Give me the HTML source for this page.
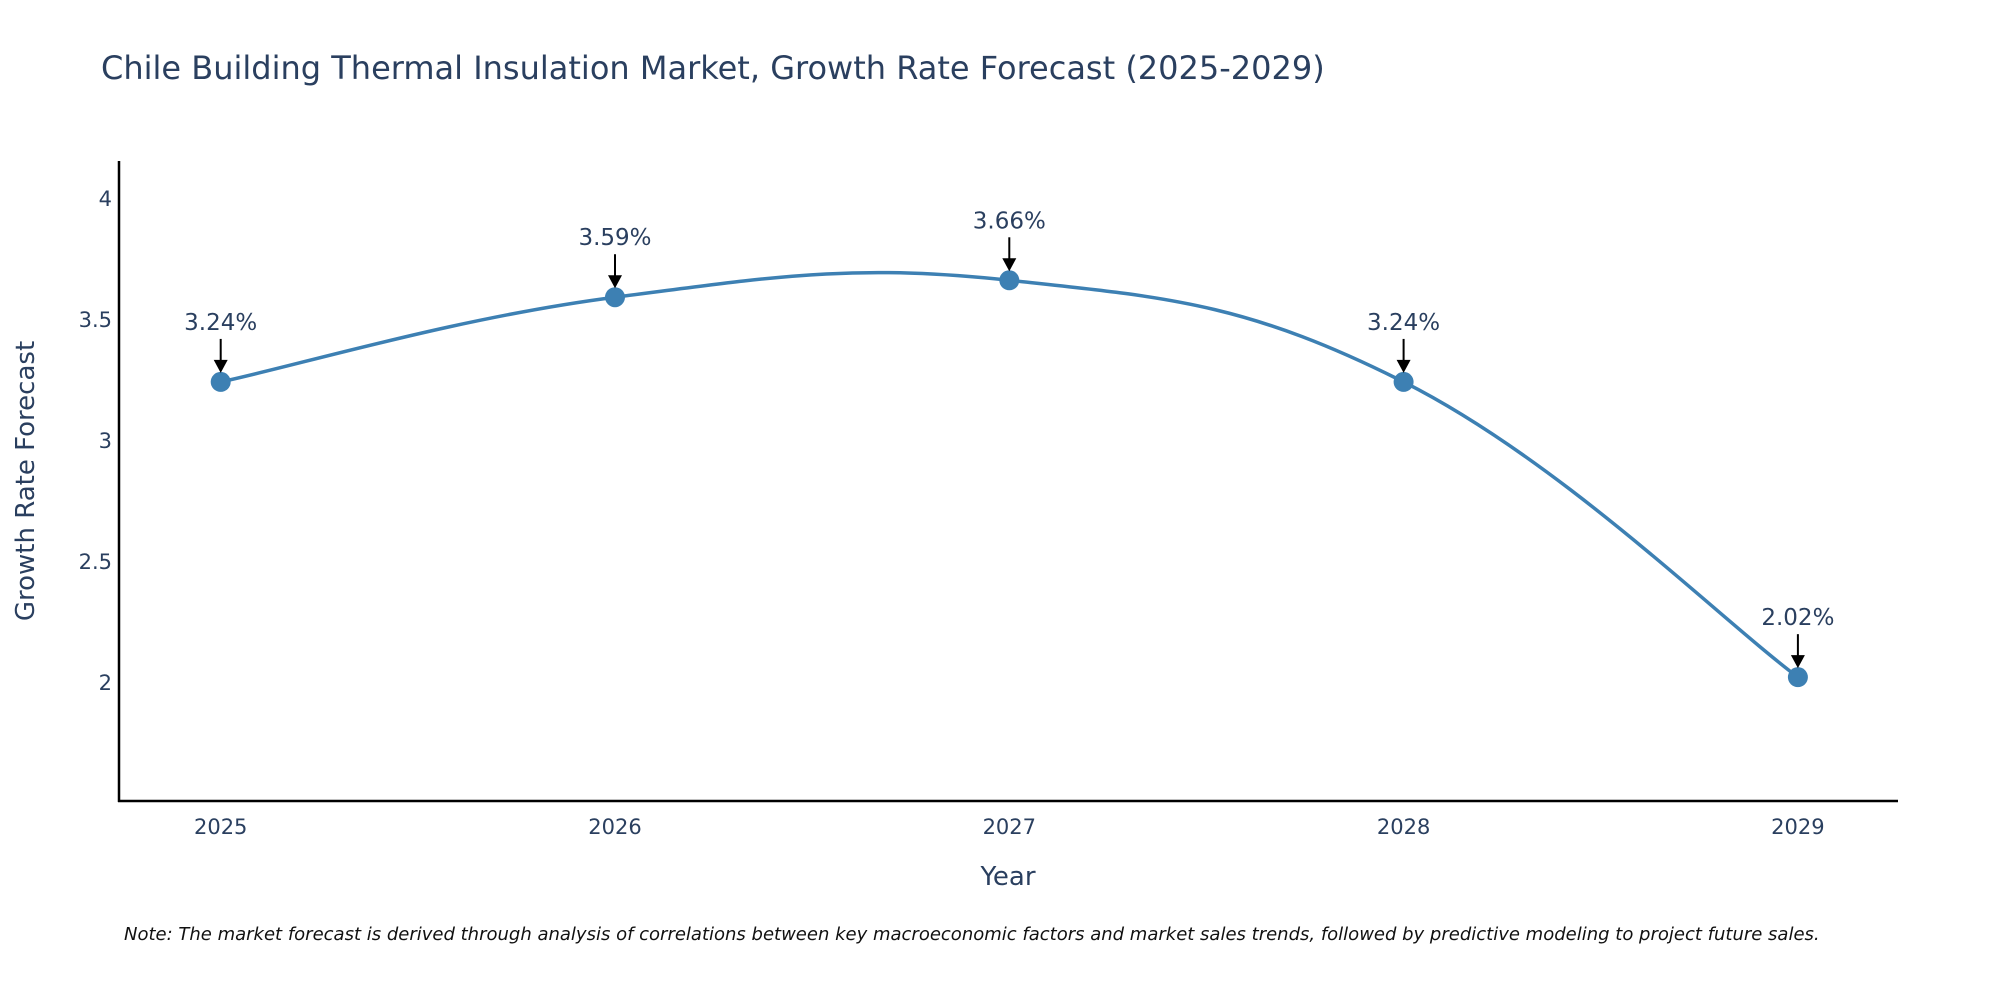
<!DOCTYPE html>
<html><head><meta charset="utf-8"><style>
body{margin:0;background:#fff;overflow:hidden;}
svg{display:block;font-family:"DejaVu Sans","Liberation Sans",sans-serif;}
</style></head><body>
<svg id="chart" width="2000" height="1000">
<text x="101" y="79" font-size="32" fill="#2a3f5f">Chile Building Thermal Insulation Market, Growth Rate Forecast (2025-2029)</text>
<g id="yticks"></g>
<g id="xticks"></g>
<line x1="119" y1="161" x2="119" y2="802" stroke="#000" stroke-width="2.5"/>
<line x1="118" y1="801" x2="1898" y2="801" stroke="#000" stroke-width="2.5"/>
<g id="series"></g>
<g id="annots"></g>
<text x="1008" y="885" font-size="26" fill="#2a3f5f" text-anchor="middle">Year</text>
<text transform="translate(34,481) rotate(-90)" font-size="26" fill="#2a3f5f" text-anchor="middle">Growth Rate Forecast</text>
<text x="124" y="940" font-size="18" font-style="italic" fill="#111">Note: The market forecast is derived through analysis of correlations between key macroeconomic factors and market sales trends, followed by predictive modeling to project future sales.</text>
</svg>
<script>
const years = [2025, 2026, 2027, 2028, 2029];
const rates = [3.24, 3.59, 3.66, 3.24, 2.02];
const labels = ["3.24%", "3.59%", "3.66%", "3.24%", "2.02%"];
const yTicks = [2, 2.5, 3, 3.5, 4];
const yTickLabels = ["2", "2.5", "3", "3.5", "4"];

const NS = "http://www.w3.org/2000/svg";
const xS = v => 220.7 + (v - 2025) * 394.3;
const yS = v => 682 - (v - 2) * 242;
function mk(tag, attrs, parent, text){
  const e = document.createElementNS(NS, tag);
  for (const k in attrs) e.setAttribute(k, attrs[k]);
  if (text !== undefined) e.textContent = text;
  parent.appendChild(e); return e;
}
const yt = document.getElementById('yticks');
yTicks.forEach((t,i)=>{
  const e = mk('text',{x:112,y:yS(t)+8,'font-size':21,fill:'#2a3f5f','text-anchor':'end'},yt,yTickLabels[i]);
  
  
});
const xt = document.getElementById('xticks');
years.forEach(y=>{
  const e = mk('text',{x:xS(y),y:834,'font-size':21,fill:'#2a3f5f','text-anchor':'middle'},xt,String(y));
  
  
});
const pts = years.map((y,i)=>[xS(y), yS(rates[i])]);
let d = `M${pts[0][0]},${pts[0][1]}`;
const s = 1/5;
for (let i=0;i<pts.length-1;i++){
  const p0 = pts[Math.max(i-1,0)], p1 = pts[i], p2 = pts[i+1], p3 = pts[Math.min(i+2,pts.length-1)];
  const c1 = [p1[0]+(p2[0]-p0[0])*s, p1[1]+(p2[1]-p0[1])*s];
  const c2 = [p2[0]-(p3[0]-p1[0])*s, p2[1]-(p3[1]-p1[1])*s];
  d += ` C${c1[0]},${c1[1]} ${c2[0]},${c2[1]} ${p2[0]},${p2[1]}`;
}
const sg = document.getElementById('series');
const line = mk('path',{d:d,fill:'none',stroke:'#3d80b3','stroke-width':3.5},sg);


pts.forEach(p=>{
  const c = mk('circle',{cx:p[0],cy:p[1],r:10,fill:'#3d80b3'},sg);
  
  
});
const ag = document.getElementById('annots');
pts.forEach((p,i)=>{
  mk('line',{x1:p[0],y1:p[1]-43,x2:p[0],y2:p[1]-20,stroke:'#000','stroke-width':2},ag);
  const a = mk('path',{d:`M${p[0]-7},${p[1]-22} L${p[0]+7},${p[1]-22} L${p[0]},${p[1]-9} Z`,fill:'#000'},ag);
  
  
  const t = mk('text',{x:p[0],y:p[1]-52,'font-size':23,fill:'#2a3f5f','text-anchor':'middle'},ag,labels[i]);
  
  
});
</script>
</body></html>
